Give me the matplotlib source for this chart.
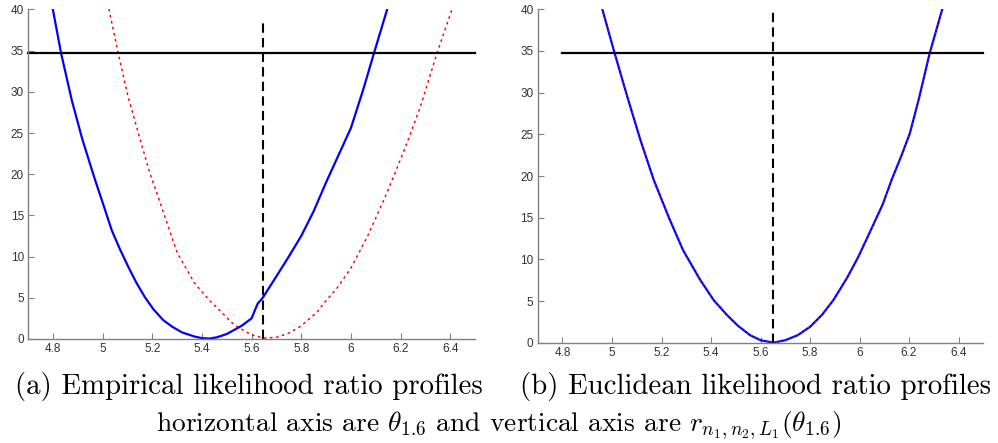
import numpy as np
import matplotlib
matplotlib.use("Agg")
import matplotlib.pyplot as plt

# -------------------------
# DATOS
# -------------------------
# (a) perfil empírico: curva azul continua
emp_azul_x = [4.80, 4.833, 4.876, 4.919, 4.97, 5.00, 5.037, 5.07, 5.103, 5.135,
              5.17, 5.205, 5.244, 5.28, 5.32, 5.37, 5.40, 5.43, 5.46, 5.50,
              5.53, 5.56, 5.60, 5.615, 5.625, 5.645, 5.70, 5.75, 5.80, 5.85,
              5.90, 5.95, 6.00, 6.05, 6.093, 6.146]
emp_azul_y = [40.0, 34.7, 29.0, 24.2, 19.3, 16.6, 13.2, 10.9, 8.8, 6.9,
              5.1, 3.6, 2.3, 1.5, 0.8, 0.3, 0.1, 0.05, 0.2, 0.6,
              1.1, 1.6, 2.5, 3.6, 4.3, 5.0, 7.6, 10.0, 12.5, 15.5,
              19.0, 22.3, 25.6, 30.3, 34.7, 40.0]

# (a) perfil empírico: curva roja punteada
emp_rojo_x = [5.026, 5.063, 5.103, 5.144, 5.19, 5.237, 5.30, 5.37, 5.43, 5.464,
              5.53, 5.60, 5.65, 5.70, 5.75, 5.80, 5.865, 5.89, 5.945, 6.00,
              6.066, 6.133, 6.18, 6.226, 6.28, 6.347, 6.407]
emp_rojo_y = [40.0, 34.7, 29.4, 25.0, 20.2, 16.1, 10.5, 6.8, 4.7, 3.7,
              1.7, 0.5, 0.1, 0.2, 0.7, 1.6, 3.3, 4.3, 6.2, 8.6,
              12.4, 16.9, 20.3, 23.8, 28.2, 34.7, 40.0]

# (b) perfil euclídeo: azul y rojo casi coinciden
euc_x = [4.961, 5.011, 5.062, 5.115, 5.169, 5.23, 5.287, 5.357, 5.411, 5.465,
         5.51, 5.558, 5.60, 5.652, 5.70, 5.75, 5.80, 5.85, 5.894, 5.95,
         5.995, 6.05, 6.095, 6.129, 6.17, 6.203, 6.24, 6.283, 6.334]
euc_azul_y = [40.0, 34.7, 29.5, 24.3, 19.5, 15.0, 11.1, 7.5, 5.1, 3.3,
              2.0, 0.9, 0.3, 0.0, 0.3, 0.9, 1.9, 3.4, 5.1, 7.8,
              10.3, 13.8, 16.7, 19.5, 22.5, 25.1, 29.3, 34.7, 40.0]
euc_rojo_y = list(euc_azul_y)

# líneas de referencia
umbral = 34.7
theta_a, tope_a = 5.646, 38.5
theta_b, tope_b = 5.65, 40.0

x_ticks = [4.8, 5.0, 5.2, 5.4, 5.6, 5.8, 6.0, 6.2, 6.4]
x_labels = ["4.8", "5", "5.2", "5.4", "5.6", "5.8", "6", "6.2", "6.4"]
y_ticks = [0, 5, 10, 15, 20, 25, 30, 35, 40]
y_labels = ["0", "5", "10", "15", "20", "25", "30", "35", "40"]

plt.rcParams['mathtext.fontset'] = 'cm'
plt.rcParams['axes.unicode_minus'] = False

fig = plt.figure(figsize=(9.98, 4.43), dpi=100)
ax_a = fig.add_axes([0.0281, 0.2348, 0.4479, 0.7438])
ax_b = fig.add_axes([0.5388, 0.2264, 0.4465, 0.7526])


def estilo_matlab(ax):
    ax.set_xlim(4.7, 6.5)
    ax.set_ylim(0, 40)
    ax.set_xticks(x_ticks)
    ax.set_xticklabels(x_labels)
    ax.set_yticks(y_ticks)
    ax.set_yticklabels(y_labels)
    for lado in ['top', 'right']:
        ax.spines[lado].set_visible(False)
    for lado in ['left', 'bottom']:
        ax.spines[lado].set_color('#808080')
        ax.spines[lado].set_linewidth(1.0)
    ax.tick_params(direction='in', length=4, width=0.8, color='#808080',
                   labelsize=8.5, labelcolor='#333333', pad=3)
    for lbl in ax.get_xticklabels() + ax.get_yticklabels():
        lbl.set_fontfamily('Liberation Sans')


# (a)
ax_a.plot(emp_rojo_x, emp_rojo_y, color='red', linewidth=1.1,
          dashes=(1, 3), dash_capstyle='round')
ax_a.plot(emp_azul_x, emp_azul_y, color='blue', linewidth=1.6)
ax_a.plot([4.7, 6.5], [umbral, umbral], color='black', linewidth=1.6, clip_on=False)
ax_a.plot([theta_a, theta_a], [0, tope_a], color='black', linewidth=1.5,
          dashes=(4.5, 2.5))
estilo_matlab(ax_a)

# (b)
ax_b.plot(euc_x, euc_azul_y, color='blue', linewidth=1.6)
ax_b.plot(euc_x, euc_rojo_y, color='#b0208a', linewidth=0.8, dashes=(1, 3))
ax_b.plot([4.8, 6.5], [umbral, umbral], color='black', linewidth=1.6, clip_on=False)
ax_b.plot([theta_b, theta_b], [0, tope_b], color='black', linewidth=1.5,
          dashes=(4.5, 2.5))
estilo_matlab(ax_b)

# pies de figura
fig.text(0.249, 0.128, "(a) Empirical likelihood ratio profiles",
         ha='center', va='center', fontsize=20.8, fontfamily='cmr10')
fig.text(0.757, 0.128, "(b) Euclidean likelihood ratio profiles",
         ha='center', va='center', fontsize=20.8, fontfamily='cmr10')
fig.text(0.4995, 0.038,
         r"horizontal axis are $\theta_{1.6}$ and vertical axis are $r_{n_1,n_2,L_1}(\theta_{1.6})$",
         ha='center', va='center', fontsize=19.8, fontfamily='cmr10')

fig.savefig("out.png", dpi=100)
